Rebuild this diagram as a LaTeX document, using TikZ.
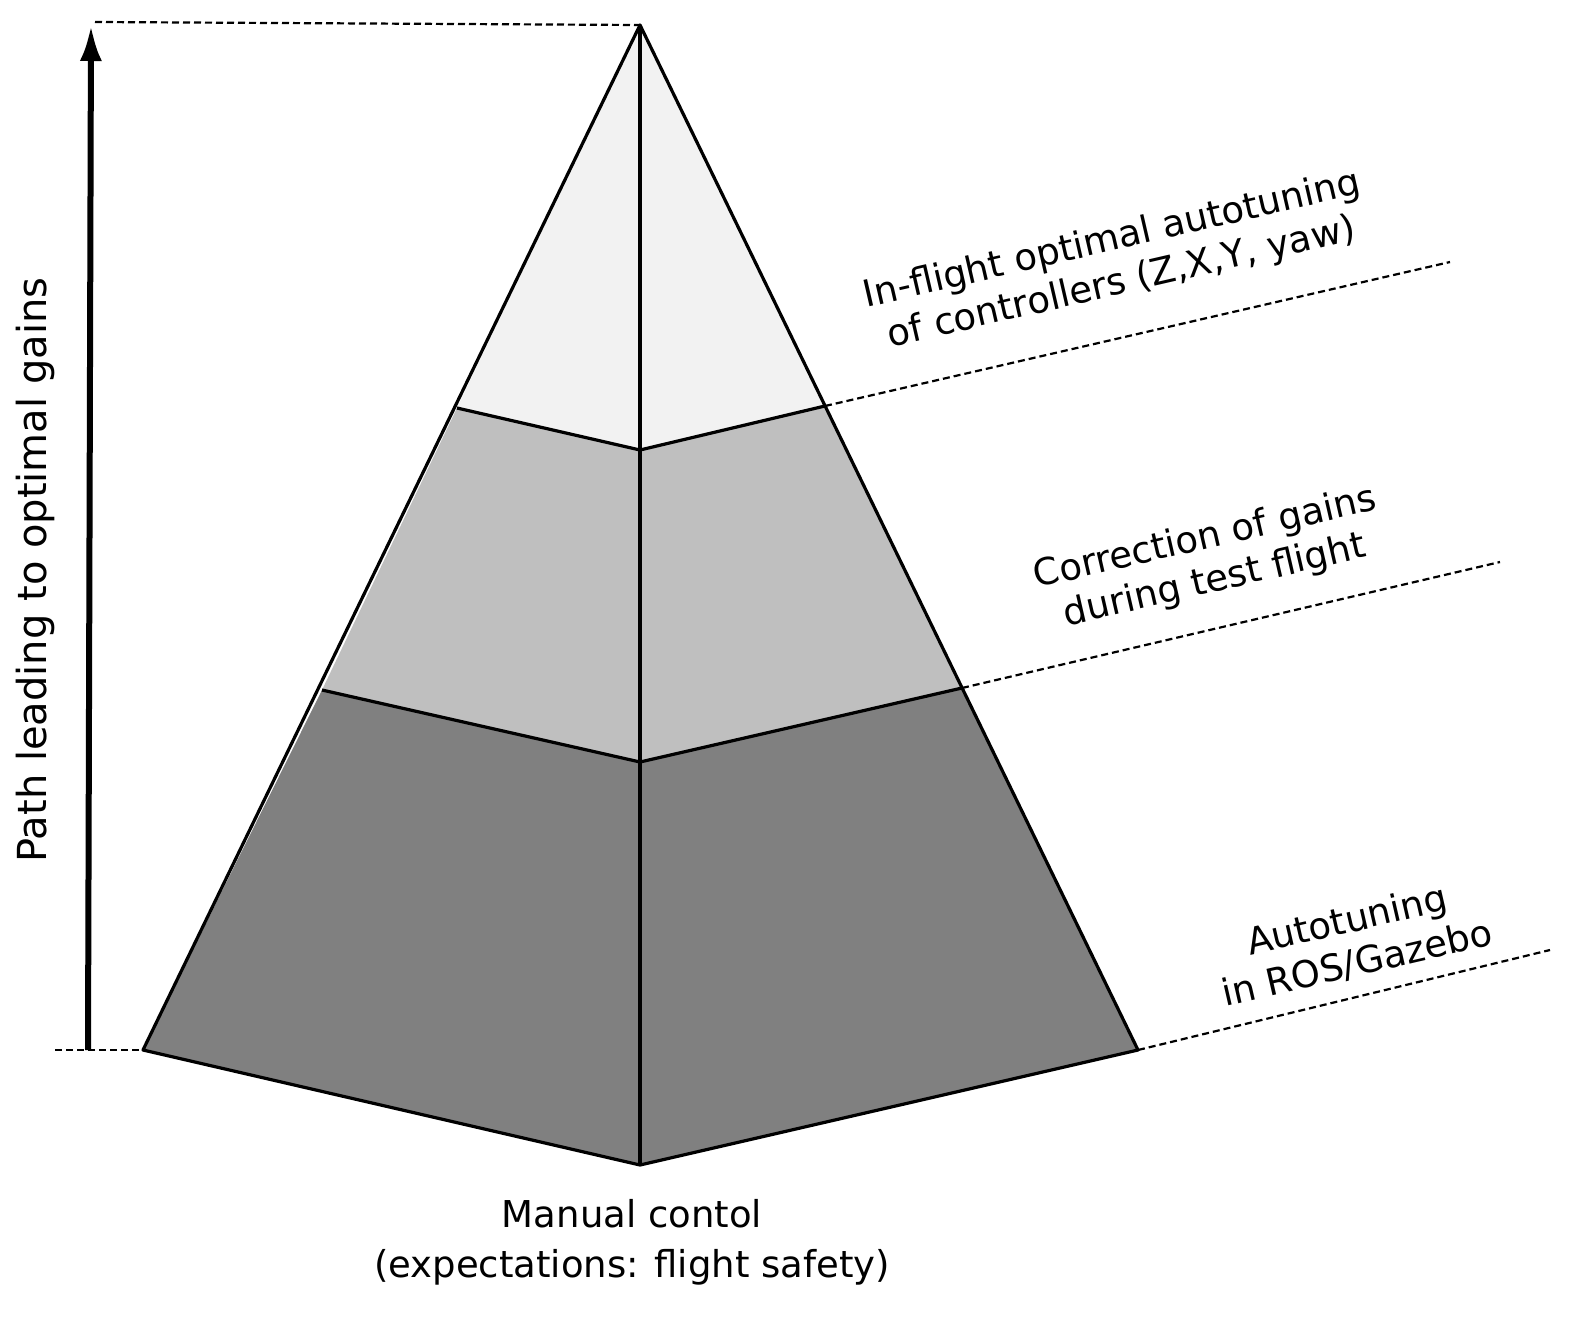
\documentclass[tikz,border=0pt]{standalone}
\usepackage{fontspec}
\setmainfont{DejaVu Sans}
\usetikzlibrary{arrows.meta}
\begin{document}
\begin{tikzpicture}[x=1pt,y=-1pt,
  face/.style={draw=black,line width=3.2pt,line join=round},
  dashline/.style={line width=2.2pt,dash pattern=on 7pt off 4pt},
  lbl/.style={font=\fontsize{37}{44}\selectfont,align=center,rotate=13}]
\useasboundingbox (0,0) rectangle (1588,1328);
\coordinate (A) at (640,25);
\coordinate (BL) at (143,1050); \coordinate (BC) at (640,1165); \coordinate (BR) at (1138,1050);
\coordinate (L1) at (457,408); \coordinate (C1) at (640,450); \coordinate (R1) at (825,406);
\coordinate (L2) at (322,690); \coordinate (C2) at (640,762); \coordinate (R2) at (962,688);
\fill[black!50] (L2)--(C2)--(R2)--(BR)--(BC)--(BL)--cycle;
\fill[black!25] (L1)--(C1)--(R1)--(R2)--(C2)--(L2)--cycle;
\fill[black!5] (A)--(R1)--(C1)--(L1)--cycle;
\draw[face] (A)--(BL)--(BC)--(BR)--cycle;
\draw[face] (A)--(BC);
\draw[face] (L1)--(C1)--(R1);
\draw[face] (L2)--(C2)--(R2);
\coordinate (E1) at (1450,262); \coordinate (E2) at (1500,562); \coordinate (E3) at (1550,950);
\draw[dashline] (R1)--(E1); \draw[dashline] (R2)--(E2); \draw[dashline] (BR)--(E3);
\coordinate (T0) at (95,22); \coordinate (B0) at (55,1050);
\draw[dashline] (T0)--(A); \draw[dashline] (B0)--(BL);
\coordinate (AS) at (88,1050); \coordinate (AE) at (91,25);
\draw[line width=6pt,-{Latex[length=36pt,width=22pt]}] (AS)--(AE);
\node[font=\fontsize{40}{46}\selectfont,rotate=90] (pl) at (35,570) {Path leading to optimal gains};
\node[lbl] (t1) at (1117,262) {In-flight optimal autotuning\\of controllers (Z,X,Y, yaw)};
\node[lbl] (t2) at (1210,560) {Correction of gains\\during test flight};
\node[lbl] (t3) at (1352,942) {Autotuning\\in ROS/Gazebo};
\node[font=\fontsize{37}{50}\selectfont,align=center] (t4) at (632,1242) {Manual contol\\(expectations: flight safety)};
\end{tikzpicture}
\end{document}
